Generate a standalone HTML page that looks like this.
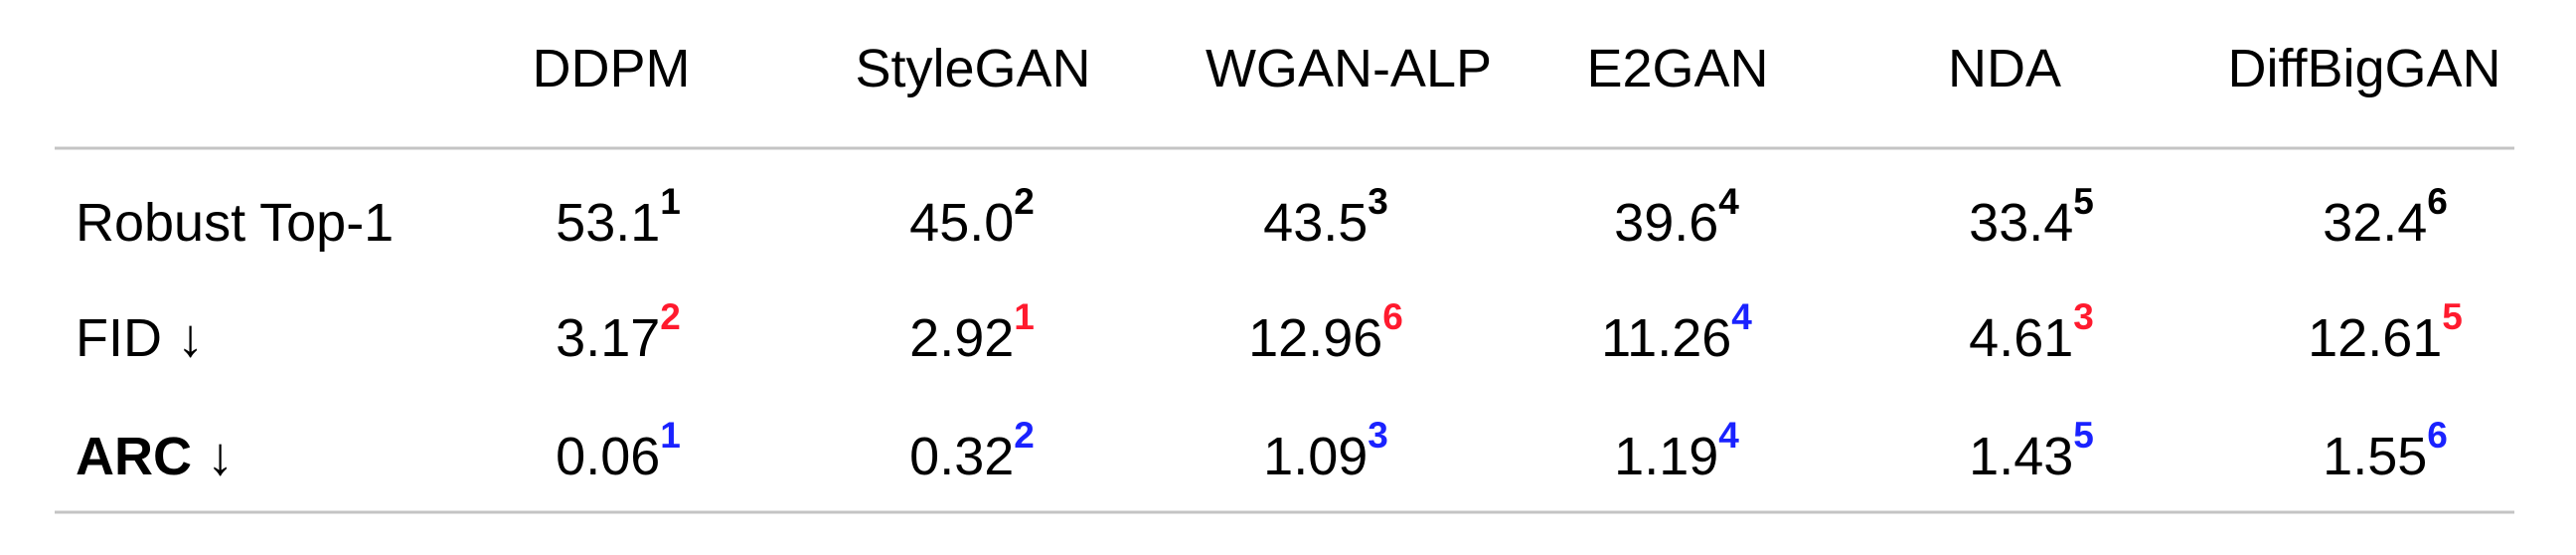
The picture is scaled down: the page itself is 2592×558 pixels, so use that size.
<!DOCTYPE html>
<html><head><meta charset="utf-8"><style>
html,body{margin:0;padding:0;background:#fff;}
svg{display:block;font-family:"Liberation Sans",sans-serif;}
</style></head><body>
<svg width="2592" height="558" viewBox="0 0 2592 558">
<line x1="55" y1="149" x2="2530" y2="149" stroke="#c4c4c4" stroke-width="3"/>
<line x1="55" y1="515" x2="2530" y2="515" stroke="#c4c4c4" stroke-width="3"/>
<g id="hdr" font-size="54" fill="#000"></g>
<g id="rows" font-size="54" fill="#000"></g>
<script>
const models=["DDPM","StyleGAN","WGAN-ALP","E2GAN","NDA","DiffBigGAN"];
const headerX=[615,979,1357,1688,2017,2379];
const colX=[622,978,1334,1687,2044,2400];
const rowLabels=["Robust Top-1","FID ↓","ARC ↓"];
const robust=["53.1","45.0","43.5","39.6","33.4","32.4"];
const robustRank=[1,2,3,4,5,6];
const robustColor=["#000","#000","#000","#000","#000","#000"];
const fid=["3.17","2.92","12.96","11.26","4.61","12.61"];
const fidRank=[2,1,6,4,3,5];
const fidColor=["#ff1a2e","#ff1a2e","#ff1a2e","#1a22ff","#ff1a2e","#ff1a2e"];
const arc=["0.06","0.32","1.09","1.19","1.43","1.55"];
const arcRank=[1,2,3,4,5,6];
const arcColor=["#1a22ff","#1a22ff","#1a22ff","#1a22ff","#1a22ff","#1a22ff"];
const NS="http://www.w3.org/2000/svg";
const hdr=document.getElementById('hdr');
models.forEach((m,i)=>{
 const t=document.createElementNS(NS,'text');
 t.setAttribute('x',headerX[i]);t.setAttribute('y',87);t.setAttribute('text-anchor','middle');
 t.textContent=m;
 
 
 hdr.appendChild(t);
});
const rows=document.getElementById('rows');
const rowY=[242,358,477];
const rowData=[[robust,robustRank,robustColor],[fid,fidRank,fidColor],[arc,arcRank,arcColor]];
rowLabels.forEach((l,r)=>{
 const t=document.createElementNS(NS,'text');
 t.setAttribute('x',76);t.setAttribute('y',rowY[r]);
 if(r===2)t.setAttribute('font-weight','bold');
 t.textContent=l;
 
 
 rows.appendChild(t);
 const [vals,ranks,cols]=rowData[r];
 vals.forEach((v,i)=>{
  const c=document.createElementNS(NS,'text');
  c.setAttribute('x',colX[i]);c.setAttribute('y',rowY[r]);c.setAttribute('text-anchor','middle');
  
  
  const a=document.createElementNS(NS,'tspan');a.textContent=v;c.appendChild(a);
  const s=document.createElementNS(NS,'tspan');
  s.setAttribute('font-size','37');s.setAttribute('font-weight','bold');s.setAttribute('fill',cols[i]);s.setAttribute('dy','-27');
  s.textContent=ranks[i];
  
  
  c.appendChild(s);
  rows.appendChild(c);
 });
});
</script>
</svg>
</body></html>
